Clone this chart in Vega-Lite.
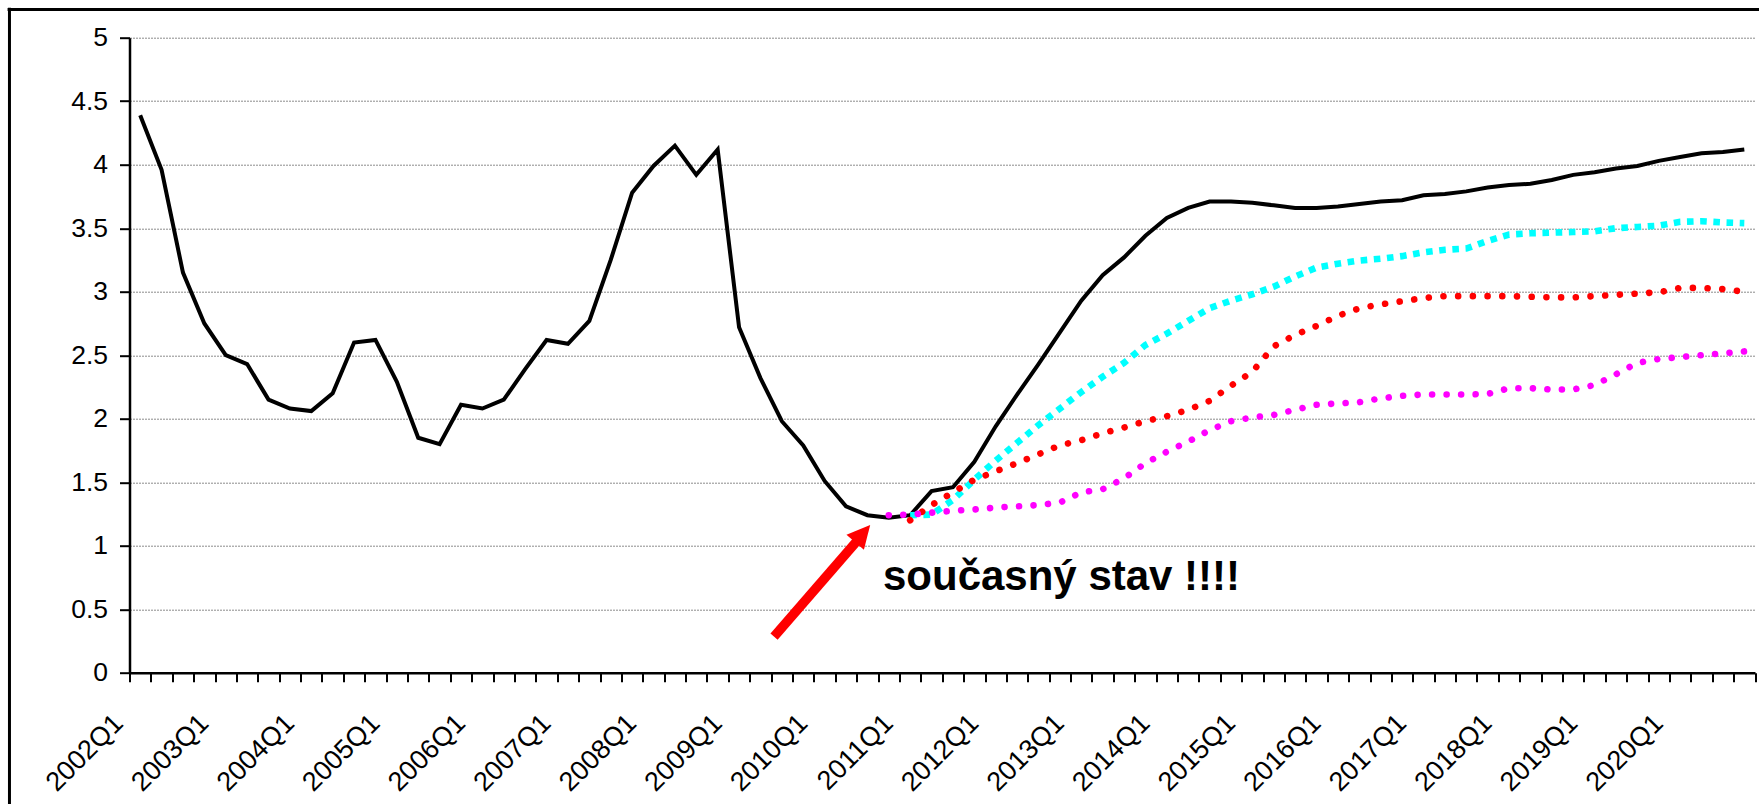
{
  "$schema": "https://vega.github.io/schema/vega-lite/v6.json",
  "width": 1625.5,
  "height": 635,
  "autosize": {"type": "none"},
  "padding": {"left": 129.5, "top": 37.7, "right": 4, "bottom": 131.3},
  "background": "white",
  "config": {"view": {"stroke": null}, "font": "Liberation Sans"},
  "datasets": {
    "actual": [
      {"q":"2002Q1","t":2002.0,"v":4.39},{"q":"2002Q2","t":2002.25,"v":3.96},{"q":"2002Q3","t":2002.5,"v":3.15},{"q":"2002Q4","t":2002.75,"v":2.75},
      {"q":"2003Q1","t":2003.0,"v":2.50},{"q":"2003Q2","t":2003.25,"v":2.43},{"q":"2003Q3","t":2003.5,"v":2.15},{"q":"2003Q4","t":2003.75,"v":2.08},
      {"q":"2004Q1","t":2004.0,"v":2.06},{"q":"2004Q2","t":2004.25,"v":2.20},{"q":"2004Q3","t":2004.5,"v":2.60},{"q":"2004Q4","t":2004.75,"v":2.62},
      {"q":"2005Q1","t":2005.0,"v":2.29},{"q":"2005Q2","t":2005.25,"v":1.85},{"q":"2005Q3","t":2005.5,"v":1.80},{"q":"2005Q4","t":2005.75,"v":2.11},
      {"q":"2006Q1","t":2006.0,"v":2.08},{"q":"2006Q2","t":2006.25,"v":2.15},{"q":"2006Q3","t":2006.5,"v":2.39},{"q":"2006Q4","t":2006.75,"v":2.62},
      {"q":"2007Q1","t":2007.0,"v":2.59},{"q":"2007Q2","t":2007.25,"v":2.77},{"q":"2007Q3","t":2007.5,"v":3.25},{"q":"2007Q4","t":2007.75,"v":3.78},
      {"q":"2008Q1","t":2008.0,"v":3.99},{"q":"2008Q2","t":2008.25,"v":4.15},{"q":"2008Q3","t":2008.5,"v":3.92},{"q":"2008Q4","t":2008.75,"v":4.12},
      {"q":"2009Q1","t":2009.0,"v":2.72},{"q":"2009Q2","t":2009.25,"v":2.32},{"q":"2009Q3","t":2009.5,"v":1.98},{"q":"2009Q4","t":2009.75,"v":1.79},
      {"q":"2010Q1","t":2010.0,"v":1.51},{"q":"2010Q2","t":2010.25,"v":1.31},{"q":"2010Q3","t":2010.5,"v":1.24},{"q":"2010Q4","t":2010.75,"v":1.22},
      {"q":"2011Q1","t":2011.0,"v":1.24},{"q":"2011Q2","t":2011.25,"v":1.43},{"q":"2011Q3","t":2011.5,"v":1.46},{"q":"2011Q4","t":2011.75,"v":1.66},
      {"q":"2012Q1","t":2012.0,"v":1.94},{"q":"2012Q2","t":2012.25,"v":2.19},{"q":"2012Q3","t":2012.5,"v":2.43},{"q":"2012Q4","t":2012.75,"v":2.68},
      {"q":"2013Q1","t":2013.0,"v":2.93},{"q":"2013Q2","t":2013.25,"v":3.13},{"q":"2013Q3","t":2013.5,"v":3.27},{"q":"2013Q4","t":2013.75,"v":3.44},
      {"q":"2014Q1","t":2014.0,"v":3.58},{"q":"2014Q2","t":2014.25,"v":3.66},{"q":"2014Q3","t":2014.5,"v":3.71},{"q":"2014Q4","t":2014.75,"v":3.71},
      {"q":"2015Q1","t":2015.0,"v":3.70},{"q":"2015Q2","t":2015.25,"v":3.68},{"q":"2015Q3","t":2015.5,"v":3.66},{"q":"2015Q4","t":2015.75,"v":3.66},
      {"q":"2016Q1","t":2016.0,"v":3.67},{"q":"2016Q2","t":2016.25,"v":3.69},{"q":"2016Q3","t":2016.5,"v":3.71},{"q":"2016Q4","t":2016.75,"v":3.72},
      {"q":"2017Q1","t":2017.0,"v":3.76},{"q":"2017Q2","t":2017.25,"v":3.77},{"q":"2017Q3","t":2017.5,"v":3.79},{"q":"2017Q4","t":2017.75,"v":3.82},
      {"q":"2018Q1","t":2018.0,"v":3.84},{"q":"2018Q2","t":2018.25,"v":3.85},{"q":"2018Q3","t":2018.5,"v":3.88},{"q":"2018Q4","t":2018.75,"v":3.92},
      {"q":"2019Q1","t":2019.0,"v":3.94},{"q":"2019Q2","t":2019.25,"v":3.97},{"q":"2019Q3","t":2019.5,"v":3.99},{"q":"2019Q4","t":2019.75,"v":4.03},
      {"q":"2020Q1","t":2020.0,"v":4.06},{"q":"2020Q2","t":2020.25,"v":4.09},{"q":"2020Q3","t":2020.5,"v":4.10},{"q":"2020Q4","t":2020.75,"v":4.12}
    ],
    "cyan": [
      {"q":"2011Q1","t":2011.0,"v":1.24},{"q":"2011Q2","t":2011.25,"v":1.245},{"q":"2011Q3","t":2011.5,"v":1.36},{"q":"2011Q4","t":2011.75,"v":1.52},
      {"q":"2012Q1","t":2012.0,"v":1.67},{"q":"2012Q2","t":2012.25,"v":1.81},{"q":"2012Q3","t":2012.5,"v":1.95},{"q":"2012Q4","t":2012.75,"v":2.08},
      {"q":"2013Q1","t":2013.0,"v":2.21},{"q":"2013Q2","t":2013.25,"v":2.33},{"q":"2013Q3","t":2013.5,"v":2.44},{"q":"2013Q4","t":2013.75,"v":2.58},
      {"q":"2014Q1","t":2014.0,"v":2.67},{"q":"2014Q2","t":2014.25,"v":2.77},{"q":"2014Q3","t":2014.5,"v":2.87},{"q":"2014Q4","t":2014.75,"v":2.93},
      {"q":"2015Q1","t":2015.0,"v":2.98},{"q":"2015Q2","t":2015.25,"v":3.04},{"q":"2015Q3","t":2015.5,"v":3.12},{"q":"2015Q4","t":2015.75,"v":3.19},
      {"q":"2016Q1","t":2016.0,"v":3.22},{"q":"2016Q2","t":2016.25,"v":3.245},{"q":"2016Q3","t":2016.5,"v":3.26},{"q":"2016Q4","t":2016.75,"v":3.28},
      {"q":"2017Q1","t":2017.0,"v":3.31},{"q":"2017Q2","t":2017.25,"v":3.33},{"q":"2017Q3","t":2017.5,"v":3.34},{"q":"2017Q4","t":2017.75,"v":3.40},
      {"q":"2018Q1","t":2018.0,"v":3.45},{"q":"2018Q2","t":2018.25,"v":3.46},{"q":"2018Q3","t":2018.5,"v":3.465},{"q":"2018Q4","t":2018.75,"v":3.47},
      {"q":"2019Q1","t":2019.0,"v":3.475},{"q":"2019Q2","t":2019.25,"v":3.50},{"q":"2019Q3","t":2019.5,"v":3.51},{"q":"2019Q4","t":2019.75,"v":3.52},
      {"q":"2020Q1","t":2020.0,"v":3.55},{"q":"2020Q2","t":2020.25,"v":3.555},{"q":"2020Q3","t":2020.5,"v":3.545},{"q":"2020Q4","t":2020.75,"v":3.54}
    ],
    "red": [
      {"q":"2011Q1","t":2011.0,"v":1.20},{"q":"2011Q2","t":2011.25,"v":1.32},{"q":"2011Q3","t":2011.5,"v":1.42},{"q":"2011Q4","t":2011.75,"v":1.52},
      {"q":"2012Q1","t":2012.0,"v":1.585},{"q":"2012Q2","t":2012.25,"v":1.65},{"q":"2012Q3","t":2012.5,"v":1.72},{"q":"2012Q4","t":2012.75,"v":1.79},
      {"q":"2013Q1","t":2013.0,"v":1.83},{"q":"2013Q2","t":2013.25,"v":1.885},{"q":"2013Q3","t":2013.5,"v":1.93},{"q":"2013Q4","t":2013.75,"v":1.98},
      {"q":"2014Q1","t":2014.0,"v":2.02},{"q":"2014Q2","t":2014.25,"v":2.07},{"q":"2014Q3","t":2014.5,"v":2.14},{"q":"2014Q4","t":2014.75,"v":2.26},
      {"q":"2015Q1","t":2015.0,"v":2.37},{"q":"2015Q2","t":2015.25,"v":2.57},{"q":"2015Q3","t":2015.5,"v":2.66},{"q":"2015Q4","t":2015.75,"v":2.73},
      {"q":"2016Q1","t":2016.0,"v":2.81},{"q":"2016Q2","t":2016.25,"v":2.87},{"q":"2016Q3","t":2016.5,"v":2.90},{"q":"2016Q4","t":2016.75,"v":2.925},
      {"q":"2017Q1","t":2017.0,"v":2.95},{"q":"2017Q2","t":2017.25,"v":2.965},{"q":"2017Q3","t":2017.5,"v":2.965},{"q":"2017Q4","t":2017.75,"v":2.965},
      {"q":"2018Q1","t":2018.0,"v":2.965},{"q":"2018Q2","t":2018.25,"v":2.96},{"q":"2018Q3","t":2018.5,"v":2.955},{"q":"2018Q4","t":2018.75,"v":2.955},
      {"q":"2019Q1","t":2019.0,"v":2.965},{"q":"2019Q2","t":2019.25,"v":2.975},{"q":"2019Q3","t":2019.5,"v":2.985},{"q":"2019Q4","t":2019.75,"v":2.995},
      {"q":"2020Q1","t":2020.0,"v":3.03},{"q":"2020Q2","t":2020.25,"v":3.03},{"q":"2020Q3","t":2020.5,"v":3.02},{"q":"2020Q4","t":2020.75,"v":3.00}
    ],
    "magenta": [
      {"q":"2010Q4","t":2010.75,"v":1.24},
      {"q":"2011Q1","t":2011.0,"v":1.245},{"q":"2011Q2","t":2011.25,"v":1.26},{"q":"2011Q3","t":2011.5,"v":1.275},{"q":"2011Q4","t":2011.75,"v":1.285},
      {"q":"2012Q1","t":2012.0,"v":1.30},{"q":"2012Q2","t":2012.25,"v":1.31},{"q":"2012Q3","t":2012.5,"v":1.32},{"q":"2012Q4","t":2012.75,"v":1.34},
      {"q":"2013Q1","t":2013.0,"v":1.42},{"q":"2013Q2","t":2013.25,"v":1.445},{"q":"2013Q3","t":2013.5,"v":1.53},{"q":"2013Q4","t":2013.75,"v":1.65},
      {"q":"2014Q1","t":2014.0,"v":1.74},{"q":"2014Q2","t":2014.25,"v":1.82},{"q":"2014Q3","t":2014.5,"v":1.91},{"q":"2014Q4","t":2014.75,"v":1.98},
      {"q":"2015Q1","t":2015.0,"v":2.01},{"q":"2015Q2","t":2015.25,"v":2.03},{"q":"2015Q3","t":2015.5,"v":2.07},{"q":"2015Q4","t":2015.75,"v":2.11},
      {"q":"2016Q1","t":2016.0,"v":2.12},{"q":"2016Q2","t":2016.25,"v":2.13},{"q":"2016Q3","t":2016.5,"v":2.16},{"q":"2016Q4","t":2016.75,"v":2.18},
      {"q":"2017Q1","t":2017.0,"v":2.19},{"q":"2017Q2","t":2017.25,"v":2.19},{"q":"2017Q3","t":2017.5,"v":2.19},{"q":"2017Q4","t":2017.75,"v":2.195},
      {"q":"2018Q1","t":2018.0,"v":2.24},{"q":"2018Q2","t":2018.25,"v":2.24},{"q":"2018Q3","t":2018.5,"v":2.23},{"q":"2018Q4","t":2018.75,"v":2.23},
      {"q":"2019Q1","t":2019.0,"v":2.265},{"q":"2019Q2","t":2019.25,"v":2.35},{"q":"2019Q3","t":2019.5,"v":2.44},{"q":"2019Q4","t":2019.75,"v":2.47},
      {"q":"2020Q1","t":2020.0,"v":2.485},{"q":"2020Q2","t":2020.25,"v":2.50},{"q":"2020Q3","t":2020.5,"v":2.515},{"q":"2020Q4","t":2020.75,"v":2.53}
    ],
    "arrowShaft": [{"t":2009.409,"v":0.2835,"t2":2010.39,"v2":1.045}],
    "arrowHead": [{"t":2010.445,"v":1.095}],
    "note": [{"t":2010.682,"v":0.651,"label":"současný stav !!!!"}],
    "borderTop": [{"t":2000.45,"t2":2022.0,"v":5.222}],
    "borderLeft": [{"t":2000.472,"v":5.235,"v2":-1.2}]
  },
  "encoding": {
    "x": {
      "field": "t", "type": "quantitative",
      "scale": {"domain": [2001.875, 2020.875], "nice": false, "zero": false},
      "axis": {
        "title": null, "grid": false,
        "values": [2001.875,2002.125,2002.375,2002.625,2002.875,2003.125,2003.375,2003.625,2003.875,2004.125,2004.375,2004.625,2004.875,2005.125,2005.375,2005.625,2005.875,2006.125,2006.375,2006.625,2006.875,2007.125,2007.375,2007.625,2007.875,2008.125,2008.375,2008.625,2008.875,2009.125,2009.375,2009.625,2009.875,2010.125,2010.375,2010.625,2010.875,2011.125,2011.375,2011.625,2011.875,2012.125,2012.375,2012.625,2012.875,2013.125,2013.375,2013.625,2013.875,2014.125,2014.375,2014.625,2014.875,2015.125,2015.375,2015.625,2015.875,2016.125,2016.375,2016.625,2016.875,2017.125,2017.375,2017.625,2017.875,2018.125,2018.375,2018.625,2018.875,2019.125,2019.375,2019.625,2019.875,2020.125,2020.375,2020.625,2020.875],
        "labelExpr": "(datum.value + 0.125) % 1 == 0 && datum.value < 2020.5 ? (datum.value + 0.125) + 'Q1' : ''",
        "labelAngle": -45, "labelAlign": "right", "labelBaseline": "middle",
        "labelFont": "Liberation Sans", "labelFontSize": 27, "labelColor": "black",
        "labelPadding": 37, "labelOffset": -11, "labelOverlap": false, "labelBound": false, "labelFlush": false,
        "tickSize": 9, "tickWidth": 2, "tickColor": "black",
        "domainColor": "black", "domainWidth": 2.5
      }
    },
    "y": {
      "field": "v", "type": "quantitative",
      "scale": {"domain": [0, 5], "nice": false, "zero": true},
      "axis": {
        "title": null,
        "values": [0, 0.5, 1, 1.5, 2, 2.5, 3, 3.5, 4, 4.5, 5],
        "format": "~g",
        "labelFont": "Liberation Sans", "labelFontSize": 26.5, "labelColor": "black",
        "labelPadding": 12,
        "tickSize": 10, "tickWidth": 2, "tickColor": "black",
        "domainColor": "black", "domainWidth": 2.5,
        "grid": true, "gridColor": "#8c8c8c", "gridDash": [2, 1], "gridWidth": 1
      }
    }
  },
  "layer": [
    {"data": {"name": "actual"}, "mark": {"type": "line", "color": "black", "strokeWidth": 4, "strokeJoin": "miter"}},
    {"data": {"name": "cyan"}, "mark": {"type": "line", "color": "#00FFFF", "strokeWidth": 6.6, "strokeDash": [6.6, 6.6], "strokeCap": "butt"}},
    {"data": {"name": "red"}, "mark": {"type": "line", "color": "#FF0000", "strokeWidth": 6.6, "strokeDash": [0.01, 14.7], "strokeCap": "round"}},
    {"data": {"name": "magenta"}, "mark": {"type": "line", "color": "#FF00FF", "strokeWidth": 6.6, "strokeDash": [0.01, 14.5], "strokeCap": "round"}},
    {"data": {"name": "arrowShaft"}, "mark": {"type": "rule", "color": "#FF0000", "strokeWidth": 9.5, "strokeCap": "butt"},
     "encoding": {"x2": {"field": "t2"}, "y2": {"field": "v2"}}},
    {"data": {"name": "arrowHead"}, "mark": {"type": "point", "shape": "M0,-1L1,1L-1,1Z", "size": 529, "angle": 40.7, "filled": true, "fill": "#FF0000", "strokeWidth": 0, "opacity": 1}},
    {"data": {"name": "note"}, "mark": {"type": "text", "align": "left", "baseline": "alphabetic", "font": "Liberation Sans", "fontSize": 42, "fontWeight": "bold", "color": "black"},
     "encoding": {"text": {"field": "label"}}},
    {"data": {"name": "borderTop"}, "mark": {"type": "rule", "color": "black", "strokeWidth": 3},
     "encoding": {"x2": {"field": "t2"}}},
    {"data": {"name": "borderLeft"}, "mark": {"type": "rule", "color": "black", "strokeWidth": 3},
     "encoding": {"y2": {"field": "v2"}}}
  ]
}
